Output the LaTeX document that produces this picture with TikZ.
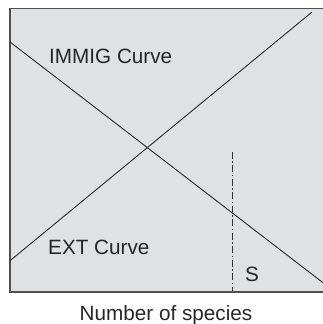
\documentclass[tikz,border=0pt]{standalone}
\usepackage{fontspec}
\setmainfont{Liberation Sans}
\usetikzlibrary{positioning,calc}
\usepackage{xcolor}
\definecolor{panelgray}{RGB}{224,225,227}
\definecolor{framegray}{RGB}{80,80,80}

\begin{document}
\begin{tikzpicture}[x=1pt, y=1pt,
    curve/.style={line width=0.9pt, black!85},
    curvelabel/.style={font=\fontsize{20.7}{24}\selectfont, anchor=base west, inner sep=0pt, text=black!85}]
    \useasboundingbox (0,0) rectangle (323,324);

    % Panel
    \draw[fill=panelgray, draw=framegray, line width=1.3pt] (10,32) rectangle (332,315.3);

    % Immigration curve (falling)
    \coordinate (immigstart) at (10,282);
    \coordinate (immigend) at (330,35.9);
    \draw[curve] (immigstart) -- (immigend);
    \node[curvelabel] (immig) at (49,260.7) {IMMIG Curve};

    % Extinction curve (rising)
    \coordinate (extstart) at (10,63.3);
    \coordinate (extend) at (311.7,311.7);
    \draw[curve] (extstart) -- (extend);
    \node[curvelabel] (ext) at (48,69) {EXT Curve};

    % Equilibrium marker
    \coordinate (stop) at (232,172);
    \coordinate (sbottom) at (232,32.6);
    \draw[line width=0.8pt, black!80, dash pattern=on 7pt off 2.5pt on 1.5pt off 2.5pt] (stop) -- (sbottom);
    \node[curvelabel] (s) at (245,42) {S};

    % Axis caption
    \node[curvelabel, anchor=base] (xcap) at (166,4) {Number of species};

\end{tikzpicture}
\end{document}
